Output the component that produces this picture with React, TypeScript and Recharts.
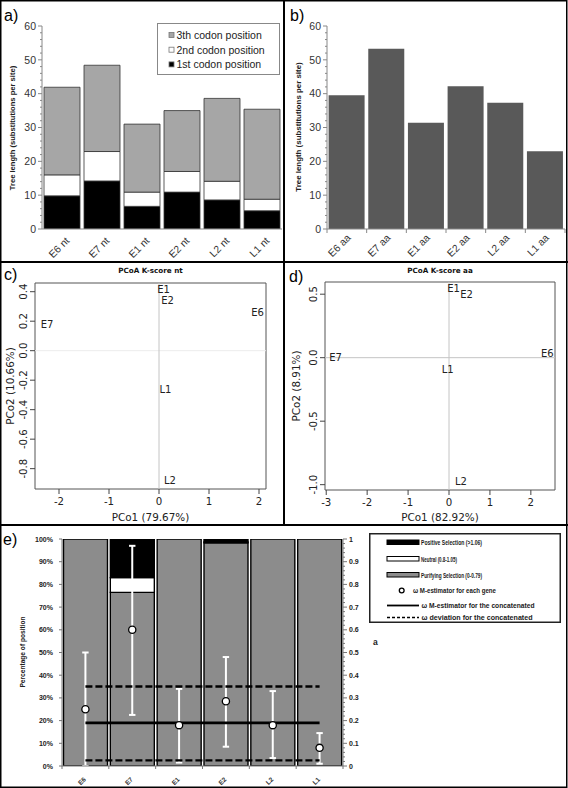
import React from 'react';
import {
  BarChart, Bar, XAxis, YAxis, ScatterChart, Scatter, ReferenceLine, ReferenceArea,
  ComposedChart, Line, ErrorBar, Legend,
} from 'recharts';

const SANS = "'Liberation Sans', Arial, sans-serif";
const DEJAVU = "'DejaVu Sans', sans-serif";

// ---------- panel a: tree length per codon position (nt) ----------
const ntGenes = ['E6 nt', 'E7 nt', 'E1 nt', 'E2 nt', 'L2 nt', 'L1 nt'];
const firstCodon = [9.8, 14.2, 6.7, 10.9, 8.6, 5.4];
const secondCodon = [6.2, 8.7, 4.2, 6.1, 5.5, 3.4];
const thirdCodon = [25.9, 25.5, 20.1, 18.0, 24.5, 26.6];

// ---------- panel b: tree length (aa) ----------
const aaGenes = ['E6 aa', 'E7 aa', 'E1 aa', 'E2 aa', 'L2 aa', 'L1 aa'];
const aaTreeLength = [39.5, 53.3, 31.4, 42.2, 37.3, 23.0];

const treeTicks = Array.from({ length: 31 }, (_, i) => i * 2);

// ---------- panel c: PCoA K-score nt ----------
const ntPoints = ['E1', 'E2', 'E6', 'E7', 'L1', 'L2'];
const ntPco1 = [0.09, 0.17, 1.97, -2.24, 0.13, 0.22];
const ntPco2 = [0.416, 0.34, 0.26, 0.175, -0.26, -0.88];
const ntXTicks = [-2, -1, 0, 1, 2];
const ntYTicks = [-0.8, -0.6, -0.4, -0.2, 0, 0.2, 0.4];

// ---------- panel d: PCoA K-score aa ----------
const aaPoints = ['E1', 'E2', 'E6', 'E7', 'L1', 'L2'];
const aaPco1 = [0.11, 0.43, 2.4, -2.77, -0.03, 0.29];
const aaPco2 = [0.546, 0.5, 0.03, 0.005, -0.09, -0.976];
const aaXTicks = [-3, -2, -1, 0, 1, 2];
const aaYTicks = [-1, -0.5, 0, 0.5];

// ---------- panel e: selection ----------
const selGenes = ['E6', 'E7', 'E1', 'E2', 'L2', 'L1'];
const purifying = [100, 76.5, 100, 98.3, 100, 100];
const neutral = [0, 6.5, 0, 0.4, 0, 0];
const positive = [0, 17, 0, 1.3, 0, 0];
const omega = [0.25, 0.6, 0.18, 0.285, 0.18, 0.08];
const omegaLow = [0, 0.225, 0.015, 0.085, 0.035, 0.01];
const omegaHigh = [0.5, 0.97, 0.34, 0.48, 0.33, 0.145];
const omegaConcatenated = 0.19;
const omegaDeviationLow = 0.025;
const omegaDeviationHigh = 0.35;
const pctTicks = [0, 10, 20, 30, 40, 50, 60, 70, 80, 90, 100];
const omegaTicks = Array.from({ length: 51 }, (_, i) => i / 50);

// ---------- tick renderers ----------
function ExcelYTick(props: any) {
  const { x, y, payload } = props;
  const v = payload.value;
  const major = v % 10 === 0;
  return (
    <g>
      <line x1={x - (major ? 4 : 2)} x2={x} y1={y} y2={y} stroke="#888" />
      {major && (
        <text x={x - 6} y={y + 3.7} textAnchor="end" fontSize={10.5} fontFamily={SANS} fill="#333">
          {v}
        </text>
      )}
    </g>
  );
}

const makeRotTick = (o: any) => (props: any) => {
  const { x, y, payload, index } = props;
  return (
    <g>
      {o.band ? (
        <line x1={x - o.band / 2} x2={x - o.band / 2} y1={y} y2={y + o.tickLen} stroke={o.tickColor} />
      ) : null}
      {o.band && index === o.count - 1 ? (
        <line x1={x + o.band / 2} x2={x + o.band / 2} y1={y} y2={y + o.tickLen} stroke={o.tickColor} />
      ) : null}
      <text
        transform={`translate(${x + o.dx},${y + o.dy}) rotate(-45)`}
        textAnchor="end"
        fontSize={o.fontSize}
        fontWeight={o.bold ? 'bold' : 'normal'}
        fontFamily={SANS}
        fill="#333"
      >
        {payload.value}
      </text>
    </g>
  );
};

const aXTick = makeRotTick({ dx: 8, dy: 12.5, fontSize: 10.3 });
const bXTick = makeRotTick({ band: 238 / 6, count: 6, tickLen: 4, tickColor: '#888', dx: 4.5, dy: 9.5, fontSize: 10.3 });
const eXTick = makeRotTick({ band: 281 / 6, count: 6, tickLen: 3, tickColor: '#777', dx: 1, dy: 14, fontSize: 6.5, bold: true });

const fmtR = (v: number, dec: number) => (dec === 0 ? String(v) : v.toFixed(dec));

const makeRXTick = (dec: number) => (props: any) => {
  const { x, y, payload } = props;
  return (
    <g>
      <line x1={x} x2={x} y1={y} y2={y + 5} stroke="#444" />
      <text x={x} y={y + 16.3} textAnchor="middle" fontSize={10.2} fontFamily={DEJAVU} fill="#222">
        {fmtR(payload.value, dec)}
      </text>
    </g>
  );
};
const makeRYTick = (dec: number) => (props: any) => {
  const { x, y, payload } = props;
  return (
    <g>
      <line x1={x - 5} x2={x} y1={y} y2={y} stroke="#444" />
      <text
        transform={`translate(${x - 8},${y}) rotate(-90)`}
        textAnchor="middle"
        fontSize={10.2}
        fontFamily={DEJAVU}
        fill="#222"
      >
        {fmtR(payload.value, dec)}
      </text>
    </g>
  );
};

function PctTick(props: any) {
  const { x, y, payload } = props;
  return (
    <g>
      <line x1={x - 3} x2={x} y1={y} y2={y} stroke="#777" />
      <text x={x - 9} y={y + 2.5} textAnchor="end" fontSize={7} fontWeight="bold" fontFamily={SANS} fill="#222">
        {payload.value}%
      </text>
    </g>
  );
}

function OmegaTick(props: any) {
  const { x, y, payload } = props;
  const v = payload.value;
  const major = Math.round(v * 50) % 5 === 0;
  return (
    <g>
      <line x1={x} x2={x + (major ? 4 : 2)} y1={y} y2={y} stroke="#777" />
      {major && (
        <text x={x + 6} y={y + 2.5} textAnchor="start" fontSize={7} fontWeight="bold" fontFamily={SANS} fill="#222">
          {String(Number(v.toFixed(1)))}
        </text>
      )}
    </g>
  );
}

// ---------- legends ----------
function NtLegend() {
  const rows = [
    { label: '3th codon position', fill: '#a6a6a6' },
    { label: '2nd codon position', fill: '#ffffff' },
    { label: '1st codon position', fill: '#000000' },
  ];
  return (
    <svg width={123} height={52} style={{ display: 'block' }}>
      <rect x={0.5} y={0.5} width={122} height={51} fill="#fff" stroke="#888" />
      {rows.map((r, i) => (
        <g key={r.label}>
          <rect x={12} y={9.5 + i * 14.7} width={5} height={5} fill={r.fill} stroke="#777" strokeWidth={0.8} />
          <text x={19.5} y={16 + i * 14.7} fontSize={10.5} fontFamily={SANS} fill="#222">
            {r.label}
          </text>
        </g>
      ))}
    </svg>
  );
}

function SelectionLegend() {
  const tx = { fontSize: 7.4, fontWeight: 'bold' as const, fontFamily: SANS, fill: '#1a1a1a' };
  return (
    <svg width={192} height={90} style={{ display: 'block' }}>
      <rect x={0.75} y={0.75} width={190.5} height={88.5} fill="#fff" stroke="#222" strokeWidth={1.5} />
      <rect x={18} y={7} width={32} height={4.5} fill="#000" stroke="#000" />
      <text x={52} y={12} textLength={61} lengthAdjust="spacingAndGlyphs" {...tx}>Positive Selection (&gt;1.06)</text>
      <rect x={18} y={23.5} width={32} height={4.5} fill="#fff" stroke="#000" />
      <text x={52} y={28.5} textLength={36} lengthAdjust="spacingAndGlyphs" {...tx}>Neutral (0.8-1.05)</text>
      <rect x={18} y={39.5} width={32} height={4.5} fill="#8c8c8c" stroke="#000" />
      <text x={52} y={44.5} textLength={61} lengthAdjust="spacingAndGlyphs" {...tx}>Purifying Selection (0-0.79)</text>
      <circle cx={32.7} cy={57.5} r={2.4} fill="#fff" stroke="#000" strokeWidth={1.3} />
      <text x={44} y={60.2} textLength={83} lengthAdjust="spacingAndGlyphs" {...tx}>ω M-estimator for each gene</text>
      <line x1={18} x2={50} y1={72.5} y2={72.5} stroke="#000" strokeWidth={1.8} />
      <text x={52.5} y={75.2} textLength={113} lengthAdjust="spacingAndGlyphs" {...tx}>ω M-estimator for the concatenated</text>
      <line x1={18} x2={50} y1={84.5} y2={84.5} stroke="#000" strokeWidth={1.6} strokeDasharray="3 2" />
      <text x={52.5} y={87.2} textLength={111} lengthAdjust="spacingAndGlyphs" {...tx}>ω deviation for the concatenated</text>
    </svg>
  );
}

// ---------- panels ----------
function PanelA() {
  const data = ntGenes.map((gene, i) => ({ gene, first: firstCodon[i], second: secondCodon[i], third: thirdCodon[i] }));
  return (
    <BarChart width={284} height={262} data={data} margin={{ top: 26, right: 2, bottom: 0, left: 0 }} barCategoryGap={2}>
      <XAxis dataKey="gene" height={33} tickLine={false} tickSize={0} tickMargin={0} interval={0} axisLine={{ stroke: '#888' }} tick={aXTick} />
      <YAxis width={42} domain={[0, 60]} ticks={treeTicks} interval={0} allowDataOverflow tickLine={false} tickSize={0} tickMargin={0} axisLine={{ stroke: '#888' }} tick={ExcelYTick} />
      <Bar dataKey="first" stackId="t" fill="#000" stroke="#333" strokeWidth={0.8} isAnimationActive={false} />
      <Bar dataKey="second" stackId="t" fill="#fff" stroke="#333" strokeWidth={0.8} isAnimationActive={false} />
      <Bar dataKey="third" stackId="t" fill="#a6a6a6" stroke="#333" strokeWidth={0.8} isAnimationActive={false} />
      <Legend layout="vertical" align="center" verticalAlign="middle" wrapperStyle={{ left: 157, top: 23, width: 123, height: 52 }} content={() => <NtLegend />} />
    </BarChart>
  );
}

function PanelB() {
  const data = aaGenes.map((gene, i) => ({ gene, length: aaTreeLength[i] }));
  return (
    <BarChart width={284} height={262} data={data} margin={{ top: 26, right: 3, bottom: 0, left: 0 }} barCategoryGap={1.6}>
      <XAxis dataKey="gene" height={33} tickLine={false} tickSize={0} tickMargin={0} interval={0} axisLine={{ stroke: '#888' }} tick={bXTick} />
      <YAxis width={43} domain={[0, 60]} ticks={treeTicks} interval={0} allowDataOverflow tickLine={false} tickSize={0} tickMargin={0} axisLine={{ stroke: '#888' }} tick={ExcelYTick} />
      <Bar dataKey="length" fill="#595959" isAnimationActive={false} />
    </BarChart>
  );
}

function PcoaPanel(p: any) {
  const data = p.names.map((name: string, i: number) => ({ name, x: p.xs[i], y: p.ys[i] }));
  const shape = (s: any) => (
    <text x={s.cx} y={s.cy + 3.6} textAnchor="middle" fontSize={10} fontFamily={DEJAVU} fill="#222">
      {s.payload.name}
    </text>
  );
  return (
    <ScatterChart width={284} height={263} margin={p.margin}>
      <XAxis type="number" dataKey="x" domain={p.xDomain} ticks={p.xTicks} interval={0} allowDataOverflow height={p.xAxisHeight} axisLine={false} tickLine={false} tickSize={0} tickMargin={0} tick={makeRXTick(0)} />
      <YAxis type="number" dataKey="y" domain={p.yDomain} ticks={p.yTicks} interval={0} allowDataOverflow width={p.yAxisWidth} axisLine={false} tickLine={false} tickSize={0} tickMargin={0} tick={makeRYTick(1)} />
      <ReferenceLine y={0} stroke={p.hLineColor} strokeWidth={1} />
      <ReferenceLine x={0} stroke="#c4c4c4" strokeWidth={1} />
      <ReferenceArea x1={p.xDomain[0]} x2={p.xDomain[1]} y1={p.yDomain[0]} y2={p.yDomain[1]} fill="none" stroke="#555" strokeWidth={1} ifOverflow="visible" />
      <Scatter data={data} shape={shape} isAnimationActive={false} />
    </ScatterChart>
  );
}

function PanelE() {
  const data = selGenes.map((gene, i) => ({
    gene,
    purifying: purifying[i],
    neutral: neutral[i],
    positive: positive[i],
    omega: omega[i],
    omegaErr: [omega[i] - omegaLow[i], omegaHigh[i] - omega[i]],
    conc: omegaConcatenated,
    devLow: omegaDeviationLow,
    devHigh: omegaDeviationHigh,
  }));
  const dot = (d: any) => (
    <circle key={`dot-${d.index}`} cx={d.cx} cy={d.cy} r={3.6} fill="#fff" stroke="#000" strokeWidth={1.3} />
  );
  return (
    <ComposedChart width={568} height={263} data={data} margin={{ top: 14, right: 203, bottom: 0, left: 0 }} barCategoryGap={1.5}>
      <XAxis dataKey="gene" height={22} interval={0} tickLine={false} tickSize={0} tickMargin={0} axisLine={{ stroke: '#777' }} tick={eXTick} />
      <YAxis yAxisId="pct" width={62} domain={[0, 100]} ticks={pctTicks} interval={0} allowDataOverflow tickLine={false} tickSize={0} tickMargin={0} axisLine={{ stroke: '#777' }} tick={PctTick} />
      <YAxis yAxisId="w" orientation="right" width={22} domain={[0, 1]} ticks={omegaTicks} interval={0} allowDataOverflow tickLine={false} tickSize={0} tickMargin={0} axisLine={{ stroke: '#777' }} tick={OmegaTick} />
      <Bar yAxisId="pct" dataKey="purifying" stackId="s" fill="#8c8c8c" stroke="#000" strokeWidth={1.4} isAnimationActive={false} />
      <Bar yAxisId="pct" dataKey="neutral" stackId="s" fill="#fff" stroke="#000" strokeWidth={1.4} isAnimationActive={false} />
      <Bar yAxisId="pct" dataKey="positive" stackId="s" fill="#000" stroke="#000" strokeWidth={1.4} isAnimationActive={false} />
      <Line yAxisId="w" dataKey="omega" stroke="none" dot={false} activeDot={false} isAnimationActive={false} legendType="none">
        <ErrorBar dataKey="omegaErr" width={3.2} stroke="#fff" strokeWidth={2} direction="y" />
      </Line>
      <Line yAxisId="w" dataKey="devHigh" stroke="#000" strokeWidth={2.4} strokeDasharray="7 3" dot={false} activeDot={false} isAnimationActive={false} />
      <Line yAxisId="w" dataKey="devLow" stroke="#000" strokeWidth={2.4} strokeDasharray="7 3" dot={false} activeDot={false} isAnimationActive={false} />
      <Line yAxisId="w" dataKey="conc" stroke="#000" strokeWidth={2.6} dot={false} activeDot={false} isAnimationActive={false} />
      <Line yAxisId="w" dataKey="omega" stroke="none" dot={dot} activeDot={false} isAnimationActive={false} />
      <Legend layout="vertical" align="center" verticalAlign="middle" wrapperStyle={{ left: 369, top: 8, width: 192, height: 90 }} content={() => <SelectionLegend />} />
    </ComposedChart>
  );
}

export default function App() {
  const abs = (left: number, top: number): React.CSSProperties => ({ position: 'absolute', left, top });
  const lbl = { fontFamily: SANS, fontSize: 16, fill: '#000' };
  return (
    <div style={{ position: 'absolute', left: 0, top: 0, width: 568, height: 788, background: '#fff', overflow: 'hidden' }}>
      <div style={abs(0, 0)}><PanelA /></div>
      <div style={abs(284, 0)}><PanelB /></div>
      <div style={abs(0, 262)}>
        <PcoaPanel
          names={ntPoints} xs={ntPco1} ys={ntPco2}
          xDomain={[-2.48, 2.14]} yDomain={[-0.938, 0.459]}
          xTicks={ntXTicks} yTicks={ntYTicks}
          margin={{ top: 21, right: 18, bottom: 0, left: 0 }}
          yAxisWidth={35} xAxisHeight={36} hLineColor="#ececec"
        />
      </div>
      <div style={abs(284, 262)}>
        <PcoaPanel
          names={aaPoints} xs={aaPco1} ys={aaPco2}
          xDomain={[-3.03, 2.59]} yDomain={[-1.042, 0.596]}
          xTicks={aaXTicks} yTicks={aaYTicks}
          margin={{ top: 20, right: 13, bottom: 0, left: 0 }}
          yAxisWidth={41} xAxisHeight={35} hLineColor="#c4c4c4"
        />
      </div>
      <div style={abs(0, 525)}><PanelE /></div>
      <svg width={568} height={788} style={{ position: 'absolute', left: 0, top: 0, pointerEvents: 'none' }}>
        <rect x={0.75} y={0.75} width={566} height={786.5} fill="none" stroke="#000" strokeWidth={1.5} />
        <line x1={284} x2={284} y1={0} y2={525} stroke="#000" strokeWidth={2} />
        <line x1={0} x2={568} y1={262} y2={262} stroke="#000" strokeWidth={2} />
        <line x1={0} x2={568} y1={525} y2={525} stroke="#000" strokeWidth={2} />
        <text x={4} y={21} {...lbl}>a)</text>
        <text x={290} y={21} {...lbl}>b)</text>
        <text x={4} y={280} {...lbl}>c)</text>
        <text x={289} y={282} {...lbl}>d)</text>
        <text x={3} y={545} {...lbl}>e)</text>
        <text transform="translate(15,128) rotate(-90)" textAnchor="middle" fontFamily={SANS} fontSize={7.6} fontWeight="bold" fill="#222">Tree length (substitutions per site)</text>
        <text transform="translate(300.5,127) rotate(-90)" textAnchor="middle" fontFamily={SANS} fontSize={7.9} fontWeight="bold" fill="#222">Tree length (substitutions per site)</text>
        <text x={150.5} y={272.6} textAnchor="middle" fontFamily={DEJAVU} fontSize={7.2} fontWeight="bold" fill="#111">PCoA K-score nt</text>
        <text x={150.5} y={520.5} textAnchor="middle" fontFamily={DEJAVU} fontSize={10.4} fill="#222">PCo1 (79.67%)</text>
        <text transform="translate(13.5,386) rotate(-90)" textAnchor="middle" fontFamily={DEJAVU} fontSize={10.4} fill="#222">PCo2 (10.66%)</text>
        <text x={440} y={272.6} textAnchor="middle" fontFamily={DEJAVU} fontSize={7.2} fontWeight="bold" fill="#111">PCoA K-score aa</text>
        <text x={440} y={520.5} textAnchor="middle" fontFamily={DEJAVU} fontSize={10.4} fill="#222">PCo1 (82.92%)</text>
        <text transform="translate(299.5,386) rotate(-90)" textAnchor="middle" fontFamily={DEJAVU} fontSize={10.4} fill="#222">PCo2 (8.91%)</text>
        <text transform="translate(25,652) rotate(-90)" textAnchor="middle" fontFamily={SANS} fontSize={6.6} fontWeight="bold" fill="#222">Percentage of position</text>
        <text x={373} y={645} fontFamily={SANS} fontSize={8.5} fontWeight="bold" fill="#222">a</text>
      </svg>
    </div>
  );
}
